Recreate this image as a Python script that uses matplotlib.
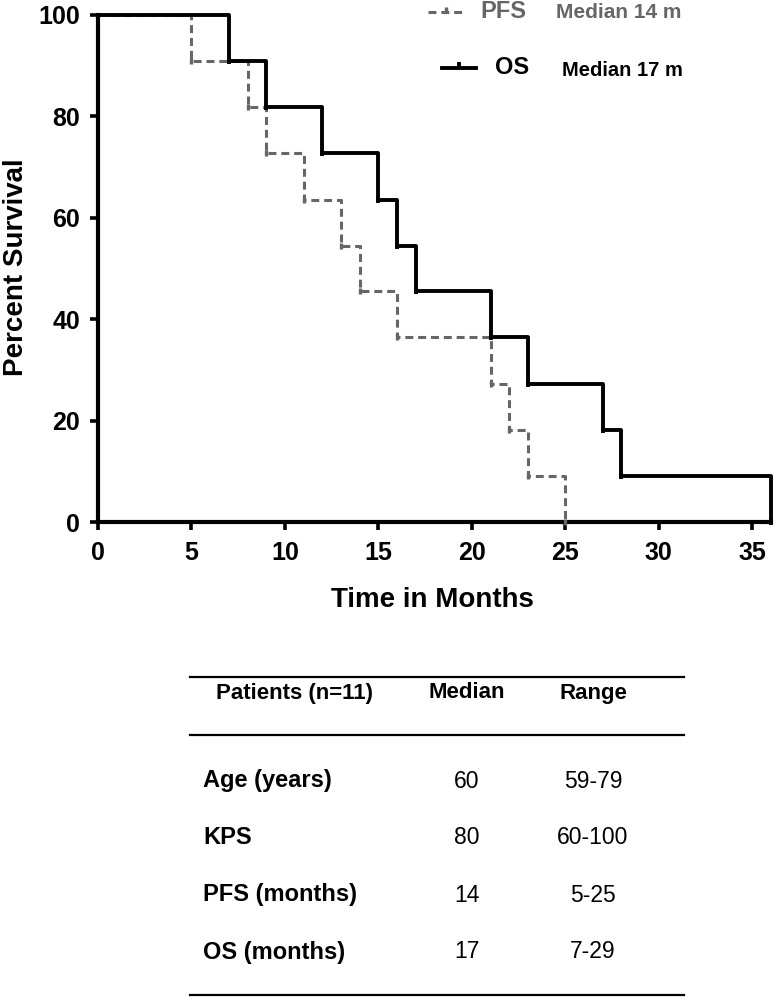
import matplotlib.pyplot as plt
from matplotlib.lines import Line2D

plt.rcParams['font.family'] = ['Liberation Sans', 'DejaVu Sans']

# Kaplan-Meier steps (time in months, percent surviving)
pfs_months = [0, 5, 8, 9, 11, 13, 14, 16, 21, 22, 23, 25]
pfs_survival = [100, 90.9, 81.8, 72.7, 63.6, 54.5, 45.5, 36.4, 27.3, 18.2, 9.1, 0]
os_months = [0, 7, 9, 12, 15, 16, 17, 21, 23, 27, 28, 36]
os_survival = [100, 90.9, 81.8, 72.7, 63.6, 54.5, 45.5, 36.4, 27.3, 18.2, 9.1, 0]

x_ticks = [0, 5, 10, 15, 20, 25, 30, 35]
y_ticks = [0, 20, 40, 60, 80, 100]

table_header = ['Patients (n=11)', 'Median', 'Range']
table_rows = ['Age (years)', 'KPS', 'PFS (months)', 'OS (months)']
table_median = ['60', '80', '14', '17']
table_range = ['59-79', '60-100', '5-25', '7-29']

W, H = 774, 998
fig = plt.figure(figsize=(W / 100, H / 100), dpi=100)


def fx(px):
    return px / W


def fy(py):
    return 1 - py / H


ax = fig.add_axes([fx(98), fy(522), fx(771) - fx(98), fy(15) - fy(522)])

pfs_color = '#666666'
pfs_dash = (0, (2.6, 1.6))
ax.step(pfs_months, pfs_survival, where='post', color=pfs_color, lw=2.2,
        linestyle=pfs_dash, clip_on=False, zorder=3)
ax.plot(pfs_months[1:], pfs_survival[1:], linestyle='none', marker='|',
        markersize=5, mew=2.4, color=pfs_color, clip_on=False, zorder=3)
ax.step(os_months, os_survival, where='post', color='black', lw=2.8,
        clip_on=False, zorder=4)
ax.plot(os_months[1:], os_survival[1:], linestyle='none', marker='|',
        markersize=5, mew=2.8, color='black', clip_on=False, zorder=4)

ax.set_xlim(0, 36)
ax.set_ylim(0, 100)
ax.set_xticks(x_ticks)
ax.set_yticks(y_ticks)
for s in ['top', 'right']:
    ax.spines[s].set_visible(False)
for s in ['left', 'bottom']:
    ax.spines[s].set_linewidth(3)
ax.tick_params(direction='out', length=6, width=2.6, labelsize=18)
ax.tick_params(axis='x', pad=8)
ax.tick_params(axis='y', pad=7)
for lab in ax.get_xticklabels() + ax.get_yticklabels():
    lab.set_fontweight('bold')

fig.text(fx(16), fy(267), 'Percent Survival', rotation=90, ha='center',
         va='center', fontsize=20, fontweight='bold')
fig.text(fx(432), fy(600), 'Time in Months', ha='center', va='center',
         fontsize=20, fontweight='bold')

# legend
fig.add_artist(Line2D([fx(428), fx(462)], [fy(12), fy(12)], color=pfs_color,
                      lw=2.2, linestyle=pfs_dash))
fig.add_artist(Line2D([fx(446)], [fy(10)], color=pfs_color, marker='|',
                      markersize=5, mew=2.4))
fig.text(fx(480), fy(11), 'PFS', ha='left', va='center', fontsize=17,
         fontweight='bold', color=pfs_color)
fig.text(fx(556), fy(12), 'Median 14 m', ha='left', va='center', fontsize=15,
         fontweight='bold', color=pfs_color)
fig.add_artist(Line2D([fx(442), fx(476)], [fy(68), fy(68)], color='black', lw=2.8))
fig.add_artist(Line2D([fx(459)], [fy(65)], color='black', marker='|',
                      markersize=5, mew=2.8))
fig.text(fx(495), fy(67), 'OS', ha='left', va='center', fontsize=17,
         fontweight='bold')
fig.text(fx(562), fy(70), 'Median 17 m', ha='left', va='center', fontsize=14.5,
         fontweight='bold')

# summary table
for yl in [677, 735, 995]:
    fig.add_artist(Line2D([fx(190), fx(684)], [fy(yl), fy(yl)], color='black', lw=1.6))
fig.text(fx(295), fy(693), table_header[0], ha='center', va='center',
         fontsize=16, fontweight='bold')
fig.text(fx(467), fy(693), table_header[1], ha='center', va='center',
         fontsize=16, fontweight='bold')
fig.text(fx(593), fy(693), table_header[2], ha='center', va='center',
         fontsize=16, fontweight='bold')
row_y = [781, 838, 895, 952]
for i, name in enumerate(table_rows):
    fig.text(fx(203), fy(row_y[i]), name, ha='left', va='center',
             fontsize=17, fontweight='bold')
    fig.text(fx(467), fy(row_y[i]), table_median[i], ha='center', va='center',
             fontsize=16.5)
    fig.text(fx(593), fy(row_y[i]), table_range[i], ha='center', va='center',
             fontsize=16.5)

fig.savefig('out.png', dpi=100)
